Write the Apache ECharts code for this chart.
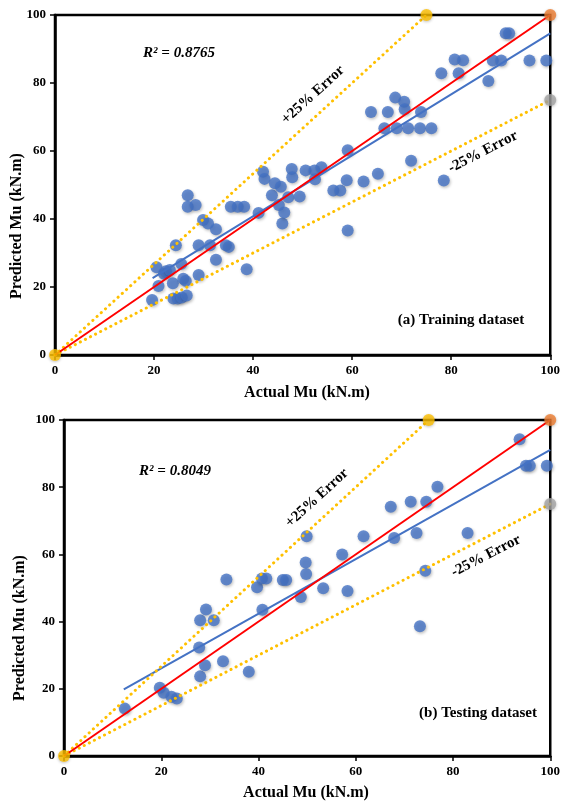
<!DOCTYPE html>
<html>
<head>
<meta charset="utf-8">
<script src="https://cdn.jsdelivr.net/npm/echarts@6/dist/echarts.min.js"></script>
<style>
  html, body { margin: 0; padding: 0; background: #fff; }
  #chart { width: 563px; height: 804px; }
</style>
</head>
<body>
<div id="chart"></div>
<script>
// Training dataset: actual vs predicted moment capacity (kN.m)
const trainActual = [
  19.6, 20.5, 20.9, 22.0, 22.4, 23.2, 23.8, 24.4, 25.5, 23.9, 24.8, 25.6, 26.6,
  25.9, 26.4, 26.8, 26.8, 28.4, 29.0, 29.0, 29.9, 30.9, 31.3, 32.5, 32.5, 34.5,
  35.1, 35.5, 36.9, 38.2, 38.7, 41.1, 42.0, 42.3, 43.8, 44.4, 45.6, 45.2, 45.9,
  46.3, 47.1, 47.8, 47.9, 49.4, 50.6, 52.4, 53.8, 52.5, 56.2, 57.6, 58.9, 59.1,
  59.1, 62.3, 63.8, 65.2, 66.5, 67.2, 68.7, 69.0, 70.5, 70.6, 71.3, 71.9, 73.7,
  73.9, 76.0, 78.5, 78.0, 80.7, 82.4, 81.5, 87.5, 88.4, 90.1, 91.0, 91.7, 95.8,
  99.2
];
const trainPredicted = [
  16.2, 25.8, 20.3, 23.9, 24.6, 25.0, 21.1, 32.3, 26.8, 16.6, 16.6, 16.9, 17.5,
  22.4, 21.8, 47.0, 43.6, 44.1, 23.5, 32.3, 39.7, 38.7, 32.3, 37.0, 28.0, 32.3,
  31.8, 43.6, 43.6, 43.6, 25.2, 41.8, 53.9, 51.8, 47.0, 50.5, 49.5, 44.1, 38.7,
  41.9, 46.4, 54.7, 52.3, 46.6, 54.3, 54.3, 55.2, 51.7, 48.4, 48.4, 51.4, 36.6,
  60.2, 51.0, 71.5, 53.3, 66.7, 71.5, 75.7, 66.7, 74.5, 72.3, 66.7, 57.1, 66.7,
  71.5, 66.7, 51.3, 82.9, 86.9, 86.7, 82.9, 80.6, 86.6, 86.6, 94.6, 94.6, 86.6,
  86.6
];

// Testing dataset
const testActual = [
  12.5, 19.7, 20.5, 22.1, 23.2, 28.0, 29.0, 32.7, 38.0, 27.8, 28.0, 29.2, 30.8,
  33.4, 39.7, 40.7, 41.6, 40.8, 45.0, 45.7, 48.7, 49.9, 49.7, 49.8, 53.3, 57.2,
  58.3, 61.6, 67.2, 67.9, 71.3, 72.5, 73.2, 74.3, 74.5, 76.8, 83.0, 93.7, 95.0,
  95.8, 99.3
];
const testPredicted = [
  14.1, 20.3, 18.8, 17.6, 17.1, 23.7, 27.0, 28.2, 25.1, 32.3, 40.4, 43.6, 40.4,
  52.5, 50.2, 52.8, 52.8, 43.5, 52.4, 52.4, 47.3, 65.4, 57.6, 54.2, 49.9, 60.0,
  49.1, 65.4, 74.2, 64.9, 75.7, 66.4, 38.6, 55.1, 75.7, 80.1, 66.4, 94.3, 86.4,
  86.4, 86.4
];

// Linear trendlines (start / end points)
const trainTrend = [[19.7, 22.6], [100, 94.6]];
const testTrend = [[12.3, 19.8], [100, 91.1]];

// Reference lines: 1:1 and ±25 % error bounds
const perfectLine = [[0, 0], [100, 100]];
const upperBound = [[0, 0], [75, 100]];
const lowerBound = [[0, 0], [100, 75]];

const axisTicks = [0, 20, 40, 60, 80, 100];
const r2Labels = ['R² = 0.8765', 'R² = 0.8049'];
const panelTitles = ['(a) Training dataset', '(b) Testing dataset'];

const FONT = "'Liberation Serif', 'Times New Roman', serif";
const BLUE = '#4472C4';
const GOLD = '#FFC000';

const zip = (a, b) => a.map((v, i) => [v, b[i]]);

function axis(gridIndex) {
  return {
    gridIndex,
    type: 'value',
    min: axisTicks[0],
    max: axisTicks[axisTicks.length - 1],
    interval: axisTicks[1] - axisTicks[0],
    axisLine: { show: true, onZero: false, lineStyle: { color: '#000', width: 2.5 } },
    axisTick: { show: true, inside: false, length: 5, lineStyle: { color: '#000', width: 1.5 } },
    axisLabel: { color: '#000', fontFamily: FONT, fontWeight: 'bold', fontSize: 13, margin: 9 },
    splitLine: { show: false }
  };
}

function panelSeries(i, pts, trend) {
  const base = { xAxisIndex: i, yAxisIndex: i };
  const dotted = { color: GOLD, width: 3, type: [0.1, 5.6], cap: 'round' };
  return [
    Object.assign({}, base, {
      type: 'scatter', data: pts, symbolSize: 12, z: 2, clip: false,
      itemStyle: { color: BLUE, shadowBlur: 3, shadowColor: 'rgba(0,0,0,0.3)', shadowOffsetX: 1, shadowOffsetY: 1.5 }
    }),
    Object.assign({}, base, {
      type: 'line', data: trend, symbol: 'none', z: 3, clip: false,
      lineStyle: { color: BLUE, width: 2 }
    }),
    Object.assign({}, base, {
      type: 'line', data: upperBound, symbol: 'none', z: 3, clip: false, lineStyle: dotted
    }),
    Object.assign({}, base, {
      type: 'line', data: lowerBound, symbol: 'none', z: 3, clip: false, lineStyle: dotted
    }),
    Object.assign({}, base, {
      type: 'line', data: perfectLine, symbol: 'none', z: 4, clip: false,
      lineStyle: { color: '#FF0000', width: 2 }
    }),
    // End markers of the reference lines
    Object.assign({}, base, {
      type: 'scatter', z: 5, clip: false, symbolSize: 12,
      data: [
        { value: upperBound[0], itemStyle: { color: GOLD } },
        { value: upperBound[1], itemStyle: { color: GOLD } },
        { value: perfectLine[1], itemStyle: { color: '#ED7D31' } },
        { value: lowerBound[1], itemStyle: { color: '#A5A5A5' } }
      ],
      itemStyle: { shadowBlur: 3, shadowColor: 'rgba(0,0,0,0.3)', shadowOffsetY: 1 }
    })
  ];
}

const chart = echarts.init(document.getElementById('chart'), null, { renderer: 'canvas' });

const txt = (text, x, y, opts) => ({
  type: 'text', x, y, rotation: (opts && opts.rot) || 0, z: 10,
  style: Object.assign({
    text, fill: '#000', font: 'bold 15px ' + FONT, align: 'center', verticalAlign: 'middle'
  }, (opts && opts.style) || {})
});
const deg = d => d * Math.PI / 180;

chart.setOption({
  animation: false,
  backgroundColor: '#fff',
  grid: [
    { left: 55, top: 15, right: 10, bottom: 449, show: true, borderColor: '#000', borderWidth: 2.5, backgroundColor: 'transparent' },
    { left: 64, top: 420, right: 8, bottom: 48, show: true, borderColor: '#000', borderWidth: 2.5, backgroundColor: 'transparent' }
  ],
  xAxis: [axis(0), axis(1)],
  yAxis: [axis(0), axis(1)],
  series: [].concat(
    panelSeries(0, zip(trainActual, trainPredicted), trainTrend),
    panelSeries(1, zip(testActual, testPredicted), testTrend)
  ),
  graphic: [
    // axis titles
    txt('Actual Mu (kN.m)', 307, 393, { style: { font: 'bold 16px ' + FONT } }),
    txt('Actual Mu (kN.m)', 306, 793, { style: { font: 'bold 16px ' + FONT } }),
    txt('Predicted Mu (kN.m)', 17, 226, { rot: deg(90), style: { font: 'bold 16px ' + FONT } }),
    txt('Predicted Mu (kN.m)', 20, 628, { rot: deg(90), style: { font: 'bold 16px ' + FONT } }),
    // R² annotations
    txt(r2Labels[0], 179, 53, { style: { font: 'italic bold 15px ' + FONT } }),
    txt(r2Labels[1], 175, 471, { style: { font: 'italic bold 15px ' + FONT } }),
    // panel captions
    txt(panelTitles[0], 461, 320),
    txt(panelTitles[1], 478, 713),
    // error band labels
    txt('+25% Error', 313, 95, { rot: deg(42.3) }),
    txt('-25% Error', 483, 152, { rot: deg(27.1) }),
    txt('+25% Error', 317, 498, { rot: deg(42.4) }),
    txt('-25% Error', 486, 556, { rot: deg(27.2) })
  ]
});
</script>
</body>
</html>
